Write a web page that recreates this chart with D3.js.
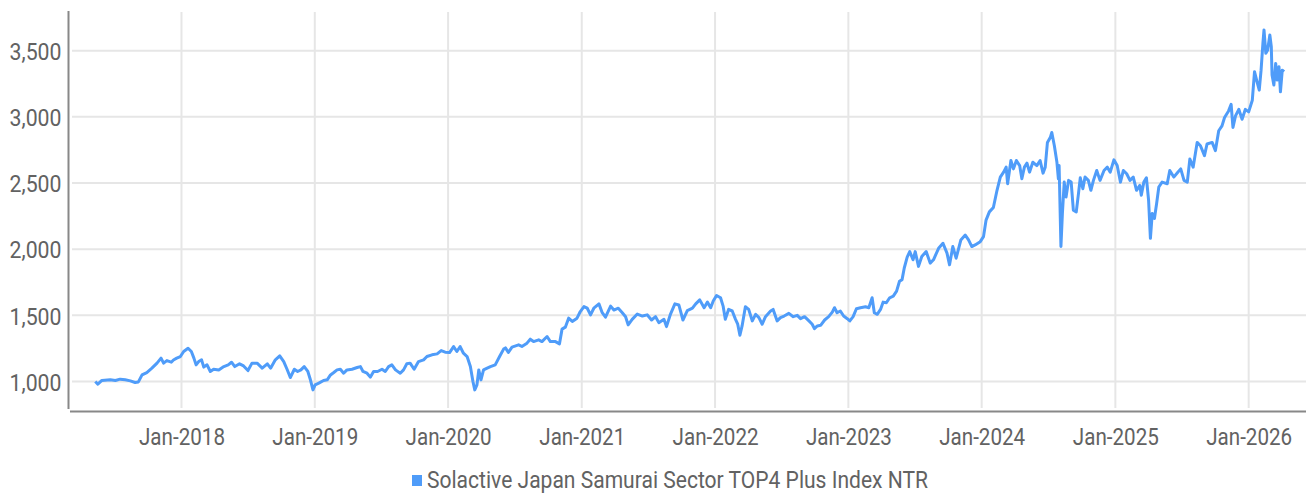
<!DOCTYPE html>
<html>
<head>
<meta charset="utf-8">
<script src="https://cdn.jsdelivr.net/npm/d3@7"></script>
<style>
  body { margin: 0; background: #fff; }
  svg { display: block; }
  text { font-family: Roboto, "Liberation Sans", sans-serif; font-weight: 400; fill: #626262; }
</style>
</head>
<body>
<svg id="chart" width="1306" height="496"></svg>
<script>
var seriesName = "Solactive Japan Samurai Sector TOP4 Plus Index NTR";

var dates = [
  "2017-05-10","2017-05-17","2017-05-28","2017-06-20","2017-07-04","2017-07-17","2017-07-31","2017-08-14","2017-08-27","2017-09-05",
  "2017-09-15","2017-09-28","2017-10-12","2017-10-26","2017-11-06","2017-11-13","2017-11-22","2017-12-04","2017-12-10","2017-12-19",
  "2017-12-29","2018-01-07","2018-01-19","2018-01-28","2018-02-04","2018-02-10","2018-02-17","2018-02-25","2018-03-03","2018-03-12",
  "2018-03-21","2018-03-30","2018-04-13","2018-04-27","2018-05-09","2018-05-18","2018-05-27","2018-06-09","2018-06-20","2018-07-02",
  "2018-07-13","2018-07-27","2018-08-10","2018-08-24","2018-09-02","2018-09-15","2018-09-27","2018-10-08","2018-10-17","2018-10-26",
  "2018-11-06","2018-11-15","2018-11-24","2018-12-03","2018-12-13","2018-12-20","2018-12-27","2019-01-02","2019-01-12","2019-01-25",
  "2019-02-04","2019-02-13","2019-02-22","2019-03-03","2019-03-12","2019-03-21","2019-03-30","2019-04-13","2019-04-27","2019-05-06",
  "2019-05-13","2019-05-24","2019-06-02","2019-06-11","2019-06-22","2019-07-04","2019-07-13","2019-07-22","2019-07-31","2019-08-10",
  "2019-08-23","2019-09-01","2019-09-10","2019-09-19","2019-09-30","2019-10-12","2019-10-26","2019-11-04","2019-11-18","2019-12-02",
  "2019-12-13","2019-12-24","2020-01-05","2020-01-16","2020-01-25","2020-02-03","2020-02-12","2020-02-22","2020-03-02","2020-03-09",
  "2020-03-14","2020-03-20","2020-03-25","2020-03-31","2020-04-07","2020-04-17","2020-04-26","2020-05-09","2020-05-21","2020-06-01",
  "2020-06-06","2020-06-14","2020-06-24","2020-07-12","2020-07-21","2020-08-04","2020-08-13","2020-08-22","2020-09-05","2020-09-14",
  "2020-09-28","2020-10-07","2020-10-21","2020-11-01","2020-11-08","2020-11-17","2020-11-26","2020-12-06","2020-12-19","2020-12-28",
  "2021-01-07","2021-01-16","2021-01-25","2021-02-03","2021-02-17","2021-02-26","2021-03-07","2021-03-21","2021-03-30","2021-04-11",
  "2021-04-22","2021-05-01","2021-05-08","2021-05-19","2021-06-02","2021-06-16","2021-06-29","2021-07-11","2021-07-22","2021-07-31",
  "2021-08-14","2021-08-21","2021-09-01","2021-09-13","2021-09-24","2021-10-05","2021-10-17","2021-10-31","2021-11-09","2021-11-20",
  "2021-12-02","2021-12-11","2021-12-20","2021-12-27","2022-01-05","2022-01-16","2022-01-23","2022-01-29","2022-02-07","2022-02-17",
  "2022-02-26","2022-03-04","2022-03-10","2022-03-16","2022-03-25","2022-04-03","2022-04-13","2022-04-22","2022-05-01","2022-05-10",
  "2022-05-19","2022-06-02","2022-06-09","2022-06-20","2022-06-29","2022-07-09","2022-07-22","2022-08-03","2022-08-14","2022-08-23",
  "2022-09-03","2022-09-15","2022-09-24","2022-09-30","2022-10-08","2022-10-17","2022-10-28","2022-11-08","2022-11-18","2022-11-24",
  "2022-12-01","2022-12-10","2022-12-19","2022-12-29","2023-01-05","2023-01-14","2023-01-23","2023-02-03","2023-02-17","2023-02-26",
  "2023-03-07","2023-03-13","2023-03-21","2023-03-30","2023-04-06","2023-04-15","2023-04-24","2023-05-04","2023-05-13","2023-05-21",
  "2023-05-28","2023-06-03","2023-06-11","2023-06-18","2023-06-27","2023-07-03","2023-07-12","2023-07-21","2023-08-02","2023-08-13",
  "2023-08-22","2023-09-05","2023-09-17","2023-09-28","2023-10-05","2023-10-14","2023-10-23","2023-11-05","2023-11-17","2023-11-26",
  "2023-12-05","2023-12-14","2023-12-28","2024-01-06","2024-01-13","2024-01-22","2024-02-02","2024-02-12","2024-02-21","2024-03-01",
  "2024-03-08","2024-03-12","2024-03-21","2024-03-28","2024-04-05","2024-04-14","2024-04-20","2024-04-27","2024-05-04","2024-05-11",
  "2024-05-20","2024-05-31","2024-06-09","2024-06-17","2024-06-23","2024-06-29","2024-07-07","2024-07-11","2024-07-18","2024-07-25",
  "2024-07-29","2024-07-31","2024-08-05","2024-08-09","2024-08-14","2024-08-19","2024-08-26","2024-09-02","2024-09-08","2024-09-16",
  "2024-09-22","2024-09-27","2024-10-04","2024-10-10","2024-10-19","2024-10-26","2024-11-02","2024-11-11","2024-11-20","2024-12-01",
  "2024-12-10","2024-12-18","2024-12-28","2025-01-06","2025-01-15","2025-01-23","2025-02-01","2025-02-10","2025-02-19","2025-02-28",
  "2025-03-09","2025-03-13","2025-03-20","2025-03-27","2025-04-02","2025-04-07","2025-04-12","2025-04-18","2025-04-24","2025-04-30",
  "2025-05-09","2025-05-23","2025-05-30","2025-06-10","2025-06-21","2025-06-29","2025-07-08","2025-07-17","2025-07-24","2025-08-02",
  "2025-08-13","2025-08-22","2025-09-02","2025-09-09","2025-09-23","2025-10-02","2025-10-11","2025-10-20","2025-10-27","2025-11-07",
  "2025-11-14","2025-11-19","2025-11-26","2025-12-05","2025-12-14","2025-12-23","2026-01-01","2026-01-11","2026-01-17","2026-01-24",
  "2026-01-30","2026-02-04","2026-02-09","2026-02-12","2026-02-17","2026-02-22","2026-02-28","2026-03-04","2026-03-06","2026-03-11",
  "2026-03-16","2026-03-20","2026-03-25","2026-03-29","2026-04-03","2026-04-08"
];

var values = [
  1000,980,1008,1013,1008,1018,1013,1005,993,997,
  1050,1068,1101,1139,1177,1139,1158,1146,1163,1177,
  1189,1227,1252,1227,1177,1126,1151,1164,1109,1126,
  1076,1093,1088,1113,1126,1146,1113,1134,1118,1083,
  1139,1139,1101,1134,1101,1164,1194,1151,1093,1030,
  1093,1076,1088,1113,1076,1013,937,975,988,1008,
  1013,1050,1068,1088,1093,1063,1088,1093,1106,1113,
  1076,1063,1033,1076,1076,1093,1076,1113,1126,1088,
  1063,1088,1134,1139,1093,1151,1164,1189,1202,1209,
  1234,1222,1219,1264,1227,1264,1214,1189,1113,1000,
  937,975,1088,1013,1088,1101,1113,1126,1189,1245,
  1254,1220,1260,1277,1265,1290,1320,1302,1315,1302,
  1340,1302,1302,1285,1396,1411,1479,1454,1479,1529,
  1566,1554,1504,1554,1587,1520,1486,1570,1540,1554,
  1520,1490,1428,1470,1510,1495,1504,1465,1490,1445,
  1470,1415,1510,1587,1578,1465,1536,1554,1587,1617,
  1558,1600,1558,1608,1650,1633,1570,1470,1545,1533,
  1470,1433,1350,1420,1565,1545,1458,1508,1483,1433,
  1490,1533,1545,1458,1483,1495,1515,1490,1500,1475,
  1490,1458,1433,1400,1420,1425,1465,1490,1525,1558,
  1520,1533,1495,1475,1458,1490,1550,1558,1565,1558,
  1633,1520,1508,1545,1600,1595,1633,1645,1683,1758,
  1770,1858,1940,1982,1920,1982,1870,1945,1982,1895,
  1920,2007,2045,1970,1882,2020,1932,2070,2107,2070,
  2020,2032,2057,2095,2220,2282,2315,2445,2545,2582,
  2620,2495,2670,2607,2670,2632,2532,2620,2650,2582,
  2657,2632,2670,2575,2620,2807,2845,2882,2782,2657,
  2532,2632,2020,2270,2507,2395,2520,2507,2295,2282,
  2420,2540,2457,2545,2520,2445,2520,2595,2520,2595,
  2620,2582,2675,2632,2507,2595,2570,2520,2545,2445,
  2482,2407,2507,2540,2370,2082,2270,2232,2345,2470,
  2507,2495,2595,2545,2582,2607,2520,2507,2682,2620,
  2807,2782,2707,2795,2807,2745,2895,2932,2995,3045,
  3095,2920,3007,3057,2982,3057,3038,3126,3341,3265,
  3202,3353,3556,3657,3480,3505,3619,3530,3316,3240,
  3404,3278,3379,3189,3353,3341
];

var yTicks = [1000, 1500, 2000, 2500, 3000, 3500];
var xTickYears = [2018, 2019, 2020, 2021, 2022, 2023, 2024, 2025, 2026];

var parse = d3.timeParse("%Y-%m-%d");
var data = dates.map(function(d, i){ return {date: parse(d), value: values[i]}; });

var svg = d3.select("#chart");
var lineColor = "#4f9cf9";

var x = d3.scaleTime()
    .domain([new Date(2017, 1, 27), new Date(2026, 5, 7)])
    .range([69, 1306]);
var y = d3.scaleLinear()
    .domain([800, 3800])
    .range([408, 11]);

// gridlines
svg.append("g").selectAll("line")
    .data(yTicks)
    .enter().append("line")
    .attr("x1", 72).attr("x2", 1306)
    .attr("y1", function(d){ return y(d); })
    .attr("y2", function(d){ return y(d); })
    .attr("stroke", "#e6e6e6")
    .attr("stroke-width", 2);

svg.append("g").selectAll("line")
    .data(xTickYears)
    .enter().append("line")
    .attr("x1", function(d){ return x(new Date(d, 0, 1)); })
    .attr("x2", function(d){ return x(new Date(d, 0, 1)); })
    .attr("y1", 12).attr("y2", 408)
    .attr("stroke", "#e6e6e6")
    .attr("stroke-width", 2);

// axes (hand placed to mimic the offset look of the original)
var yAxis = d3.axisLeft(y).tickValues(yTicks).tickSize(0).tickPadding(7).tickFormat(d3.format(","));
var yg = svg.append("g").attr("transform", "translate(68.5,0)").call(yAxis);
yg.select(".domain").remove();
yg.selectAll("text").attr("dy", "0.36em").style("font-size", "24px").style("font-family", null);

var xAxis = d3.axisBottom(x)
    .tickValues(xTickYears.map(function(d){ return new Date(d, 0, 1); }))
    .tickSize(0).tickPadding(0)
    .tickFormat(d3.timeFormat("%b-%Y"));
var xg = svg.append("g").attr("transform", "translate(0,411.5)").call(xAxis);
xg.select(".domain").remove();
xg.selectAll("text").attr("dy", null).attr("y", 33).style("font-size", "24px").style("font-family", null);

svg.append("line")
    .attr("x1", 68.5).attr("x2", 68.5).attr("y1", 11).attr("y2", 409)
    .attr("stroke", "#888").attr("stroke-width", 2);
svg.append("line")
    .attr("x1", 70).attr("x2", 1306).attr("y1", 411.5).attr("y2", 411.5)
    .attr("stroke", "#888").attr("stroke-width", 2);

// series
var line = d3.line()
    .x(function(d){ return x(d.date); })
    .y(function(d){ return y(d.value); });

svg.append("path")
    .datum(data)
    .attr("d", line)
    .attr("fill", "none")
    .attr("stroke", lineColor)
    .attr("stroke-width", 3)
    .attr("stroke-linejoin", "round");

// legend
svg.append("rect")
    .attr("x", 412).attr("y", 475)
    .attr("width", 10).attr("height", 11)
    .attr("fill", lineColor);
var legendText = svg.append("text")
    .attr("x", 427).attr("y", 488)
    .style("font-size", "24px")
    .text(seriesName);

// font here is wider than the original condensed face, squeeze it
function squeeze(sel, ratio){
    sel.each(function(){
        var w = this.getComputedTextLength();
        d3.select(this).attr("textLength", w * ratio).attr("lengthAdjust", "spacingAndGlyphs");
    });
}
var xw = xg.select("text").node().getComputedTextLength();
squeeze(xg.selectAll("text"), 86 / xw);
var yw = yg.selectAll("text").filter(function(d){ return d === 3500; }).node().getComputedTextLength();
squeeze(yg.selectAll("text"), 52 / yw);
squeeze(legendText, 501 / legendText.node().getComputedTextLength());
</script>
</body>
</html>
